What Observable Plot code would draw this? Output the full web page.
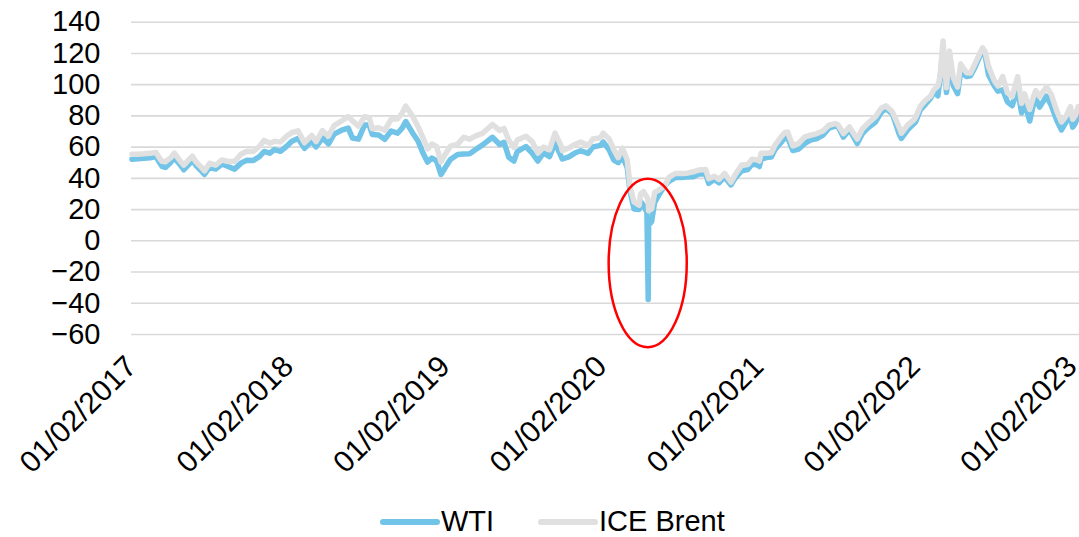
<!DOCTYPE html>
<html><head><meta charset="utf-8">
<script src="https://cdn.jsdelivr.net/npm/d3@7"></script>
<script src="https://cdn.jsdelivr.net/npm/@observablehq/plot@0.6"></script>
<style>
body{margin:0;background:#fff;font-family:"Liberation Sans",Arial,sans-serif;}
#chart{position:relative;width:1079px;height:537px;overflow:hidden}
#chart svg{display:block}
</style></head><body><div id="chart"></div>
<script>
const dates = [
"2017-01-03","2017-01-17","2017-01-31","2017-02-14","2017-02-28","2017-03-08","2017-03-14","2017-03-22","2017-04-03","2017-04-12","2017-04-24","2017-05-04","2017-05-15","2017-05-24","2017-06-01","2017-06-14","2017-06-21","2017-07-03","2017-07-17","2017-08-01","2017-08-15","2017-08-30","2017-09-15","2017-09-28","2017-10-13","2017-10-27","2017-11-07","2017-11-20","2017-12-01","2017-12-15","2017-12-29",
"2018-01-10","2018-01-25","2018-02-09","2018-02-26","2018-03-08","2018-03-23","2018-04-06","2018-04-19","2018-05-09","2018-05-22","2018-06-01","2018-06-15","2018-06-29","2018-07-10","2018-07-17","2018-08-01","2018-08-15","2018-08-30","2018-09-14","2018-09-25","2018-10-03","2018-10-19","2018-11-01","2018-11-13","2018-11-23","2018-12-03","2018-12-14","2018-12-24","2018-12-31",
"2019-01-02","2019-01-15","2019-02-01","2019-02-15","2019-03-01","2019-03-15","2019-04-01","2019-04-23","2019-05-10","2019-05-20","2019-05-31","2019-06-12","2019-06-20","2019-07-10","2019-07-25","2019-08-07","2019-08-20","2019-09-03","2019-09-16","2019-09-30","2019-10-03","2019-10-18","2019-11-01","2019-11-15","2019-12-02","2019-12-13","2019-12-31",
"2020-01-06","2020-01-20","2020-01-31","2020-02-10","2020-02-20","2020-03-02","2020-03-09","2020-03-18","2020-03-30","2020-04-02","2020-04-09","2020-04-17","2020-04-20","2020-04-21","2020-04-28","2020-05-05","2020-05-15","2020-05-29","2020-06-08","2020-06-22","2020-07-06","2020-07-20","2020-08-03","2020-08-17","2020-09-01","2020-09-08","2020-09-21","2020-10-02","2020-10-15","2020-10-30","2020-11-09","2020-11-24","2020-12-08","2020-12-18","2020-12-31",
"2021-01-04","2021-01-08","2021-01-20","2021-02-01","2021-02-10","2021-02-25","2021-03-05","2021-03-11","2021-03-23","2021-04-05","2021-04-20","2021-05-03","2021-05-18","2021-06-01","2021-06-15","2021-06-30","2021-07-06","2021-07-19","2021-08-02","2021-08-20","2021-09-01","2021-09-15","2021-10-01","2021-10-15","2021-10-26","2021-11-10","2021-11-26","2021-12-01","2021-12-15","2021-12-31",
"2022-01-03","2022-01-14","2022-01-26","2022-02-07","2022-02-14","2022-02-24","2022-03-01","2022-03-08","2022-03-16","2022-03-23","2022-04-01","2022-04-11","2022-04-18","2022-05-02","2022-05-11","2022-05-20","2022-06-08","2022-06-14","2022-06-22","2022-07-05","2022-07-14","2022-07-25","2022-08-05","2022-08-16","2022-08-29","2022-09-07","2022-09-14","2022-09-26","2022-10-04","2022-10-10","2022-10-19","2022-11-04","2022-11-15","2022-11-28","2022-12-09","2022-12-20","2022-12-30",
"2023-01-04","2023-01-10","2023-01-17"
];
const wti = [
52.3,52.5,52.8,53.2,54.0,50.3,47.7,47.0,50.2,53.1,49.2,45.5,48.8,51.4,48.4,44.7,42.5,47.1,46.0,49.2,47.6,45.9,49.9,51.6,51.5,53.9,57.2,56.1,58.4,57.3,60.4,
63.6,65.6,59.2,63.9,60.1,65.9,62.1,68.3,71.1,72.2,65.8,65.1,74.2,74.1,68.1,67.7,65.0,70.3,68.9,72.3,76.4,69.1,63.7,55.7,50.4,53.0,51.2,42.5,45.4,
46.5,52.1,55.3,55.6,55.8,58.5,61.6,66.3,61.7,63.1,53.5,51.1,57.1,60.4,56.0,51.1,56.3,53.9,62.9,54.1,52.4,53.8,56.2,57.7,56.0,60.1,61.1,
63.3,58.3,51.6,50.0,53.8,47.0,31.1,20.4,20.1,25.3,22.8,18.3,-37.6,10.0,12.3,24.6,29.4,35.5,38.2,40.5,40.6,40.8,41.0,42.9,42.8,36.8,39.3,37.1,40.9,35.8,40.3,44.9,45.6,49.1,48.5,
47.6,52.2,53.3,53.6,58.7,63.5,66.1,66.0,57.8,58.7,62.4,64.5,65.5,67.7,72.1,73.5,73.4,66.4,71.3,62.3,68.6,72.6,75.9,82.3,84.7,81.3,68.2,65.6,70.9,75.2,
76.1,83.8,87.4,91.3,95.5,92.8,103.4,123.7,95.0,114.9,99.3,94.3,108.2,105.2,105.7,110.3,122.1,118.9,106.2,99.5,95.8,96.7,89.0,86.5,97.0,81.9,88.5,76.7,86.5,91.1,85.6,92.6,86.9,77.2,71.0,76.2,80.3,
72.8,75.1,80.2
];
const brent = [
55.5,55.5,55.7,56.0,56.5,53.1,50.9,50.6,53.1,56.2,51.6,48.4,51.8,54.2,50.6,47.0,44.8,49.7,48.4,51.8,50.8,50.9,55.6,57.4,57.2,60.4,64.3,62.6,63.7,63.2,66.9,
69.2,70.4,62.8,67.5,63.6,70.5,67.1,73.8,77.2,79.6,76.8,73.4,79.4,78.9,71.8,72.4,70.8,77.8,78.1,81.9,86.3,79.8,72.9,65.5,58.8,62.0,60.3,50.5,53.8,
54.9,60.6,61.9,66.3,65.1,67.2,69.0,74.5,70.6,72.0,64.5,59.9,64.5,67.0,63.4,56.2,60.0,58.3,69.0,60.8,57.7,59.4,61.7,63.3,61.0,65.2,66.0,
68.9,65.2,58.2,53.3,59.3,51.9,34.4,24.9,22.8,29.9,31.5,28.1,25.6,19.3,20.5,31.0,32.5,35.3,40.8,43.1,43.1,43.3,44.2,45.4,45.6,39.8,41.4,39.3,43.2,37.5,42.4,48.6,48.8,52.3,51.8,
51.1,56.0,56.1,56.4,61.5,67.0,69.4,69.6,60.8,62.2,66.6,67.6,68.7,70.3,74.0,75.1,74.5,68.6,72.9,65.2,71.6,75.5,79.3,84.9,86.4,82.6,72.7,68.9,73.9,77.8,
79.0,86.1,90.0,92.7,96.5,99.1,105.0,128.0,98.0,121.6,104.4,98.5,113.2,107.6,107.5,112.6,123.6,121.2,111.7,102.8,99.1,105.2,94.9,92.3,105.1,88.0,94.1,84.1,91.8,96.2,92.4,98.6,93.9,83.2,76.1,80.0,85.9,
77.8,80.1,86.0
];
const seriesNames = ["WTI", "ICE Brent"];
const seriesColors = ["#71C4E7", "#E0E0E0"];
const yTicks = [-60, -40, -20, 0, 20, 40, 60, 80, 100, 120, 140];
const xTicks = ["2017-01-02","2018-01-02","2019-01-02","2020-01-02","2021-01-02","2022-01-02","2023-01-02"];
const xDomain = ["2017-01-02", "2023-01-20"];
// annotation ellipse around the April 2020 WTI collapse (data units)
const ellipseCenterDate = "2020-04-20";
const ellipseCenterValue = -14.5;
const ellipseRadiusDays = 91;
const ellipseRadiusValue = 54;

const wtiRows = dates.map((d, i) => ({date: new Date(d), value: wti[i]}));
const brentRows = dates.map((d, i) => ({date: new Date(d), value: brent[i]}));

const W = 1079, H = 500;
const chart = Plot.plot({
  width: W, height: H,
  marginLeft: 131, marginRight: 0, marginTop: 21.7, marginBottom: H - 334,
  style: {fontFamily: "'Liberation Sans', Arial, sans-serif", fontSize: "29px", color: "#000", background: "#fff"},
  x: {type: "utc", domain: xDomain.map(d => new Date(d))},
  y: {domain: [-60, 140]},
  marks: [
    Plot.ruleY(yTicks, {stroke: "#d9d9d9", strokeWidth: 1.6}),
    Plot.axisY({ticks: yTicks, tickSize: 0, tickPadding: 31, label: null, fontSize: 29}),
    Plot.axisX({ticks: xTicks.map(d => new Date(d)), tickFormat: d3.utcFormat("%m/%d/%Y"),
      tickRotate: -45, tickSize: 0, tickPadding: 27, label: null, fontSize: 30}),
    Plot.lineY(wtiRows, {x: "date", y: "value", stroke: seriesColors[0], strokeWidth: 5.5, strokeLinejoin: "round", strokeLinecap: "round"}),
    Plot.lineY(brentRows, {x: "date", y: "value", stroke: seriesColors[1], strokeWidth: 5.5, strokeLinejoin: "round", strokeLinecap: "round"})
  ]
});
const sx = chart.scale("x"), sy = chart.scale("y");
const c0 = new Date(ellipseCenterDate);
const cx = sx.apply(c0);
const rx = sx.apply(new Date(c0.getTime() + ellipseRadiusDays * 864e5)) - cx;
const cy = sy.apply(ellipseCenterValue);
const ry = sy.apply(ellipseCenterValue - ellipseRadiusValue) - cy;
d3.select(chart).append("ellipse").attr("cx", cx).attr("cy", cy).attr("rx", rx).attr("ry", ry)
  .attr("fill", "none").attr("stroke", "#FF0000").attr("stroke-width", 2.5);
document.getElementById("chart").appendChild(chart);

// legend below the plot
const leg = d3.select("#chart").append("svg").attr("width", W).attr("height", 537 - H)
  .style("font-family", "'Liberation Sans', Arial, sans-serif");
const legX = [383, 541], legW = 54;
seriesNames.forEach((name, i) => {
  leg.append("line").attr("x1", legX[i]).attr("x2", legX[i] + legW).attr("y1", 22).attr("y2", 22)
    .attr("stroke", seriesColors[i]).attr("stroke-width", 6).attr("stroke-linecap", "round");
  leg.append("text").attr("x", legX[i] + legW + 4).attr("y", 31).attr("font-size", 29).attr("fill", "#000").text(name);
});
</script></body></html>
